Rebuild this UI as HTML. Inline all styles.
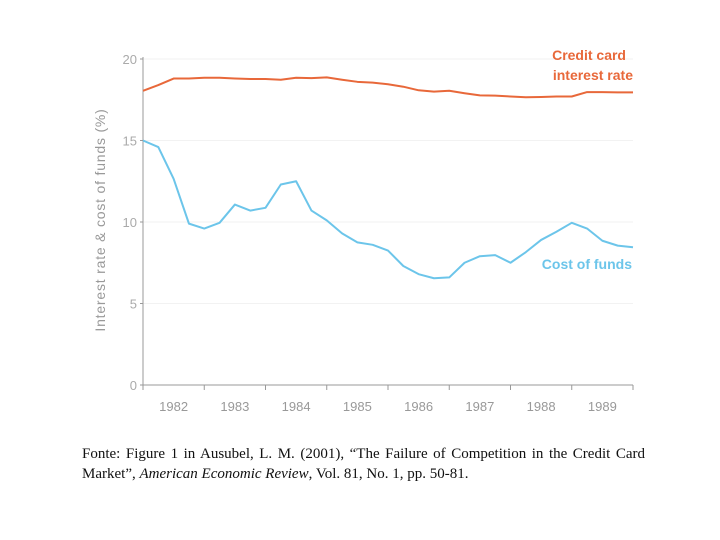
<!DOCTYPE html>
<html><head><meta charset="utf-8"><style>
body{margin:0;width:720px;height:540px;background:#fff;overflow:hidden;position:relative}
#cap{position:absolute;left:82px;top:444px;width:563px;font-family:"Liberation Serif",serif;font-size:15px;line-height:20px;color:#111;text-align:justify;text-align-last:left}
</style></head><body>
<svg id="chart" width="720" height="440" style="position:absolute;left:0;top:0" font-family="Liberation Sans, sans-serif"></svg>
<div id="cap">Fonte: Figure 1 in Ausubel, L. M. (2001), “The Failure of Competition in the Credit Card Market”, <i>American Economic Review</i>, Vol. 81, No. 1, pp. 50-81.</div>
<script>
const years=["1982","1983","1984","1985","1986","1987","1988","1989"];
const yTicks=[0,5,10,15,20];
const creditCard=[18.05,18.4,18.8,18.8,18.85,18.85,18.8,18.77,18.77,18.73,18.85,18.83,18.87,18.73,18.6,18.55,18.45,18.3,18.08,18.0,18.05,17.9,17.77,17.75,17.7,17.65,17.67,17.7,17.7,17.97,17.97,17.95,17.95];
const costOfFunds=[15.0,14.6,12.65,9.9,9.6,9.95,11.07,10.7,10.87,12.3,12.5,10.7,10.1,9.3,8.75,8.6,8.25,7.3,6.8,6.55,6.6,7.5,7.9,7.97,7.5,8.15,8.9,9.4,9.95,9.6,8.85,8.55,8.45];
const svg=document.getElementById('chart');
const NS='http://www.w3.org/2000/svg';
const X0=143,X1=633,Y0=385,Y1=59;
const x=q=>X0+(X1-X0)*q/(years.length*4);
const y=v=>Y0-(Y0-Y1)*v/20;
function mk(t,a){const e=document.createElementNS(NS,t);for(const k in a)e.setAttribute(k,a[k]);svg.appendChild(e);return e;}
yTicks.forEach(v=>{
 if(v>0){const g=mk('line',{x1:X0,x2:X1,y1:y(v),y2:y(v),stroke:'#f2f2f2','stroke-width':1});
 
 }
 const tk=mk('line',{x1:X0-3,x2:X0,y1:y(v),y2:y(v),stroke:'#999'});
 
 
 const t=mk('text',{x:X0-6,y:y(v)+5,'text-anchor':'end','font-size':13,fill:'#aaa'});
 t.textContent=v;
 
 
});
const ax=mk('line',{x1:X0,x2:X0,y1:Y1-2,y2:Y0,stroke:'#999'});


const bx=mk('line',{x1:X0,x2:X1,y1:Y0,y2:Y0,stroke:'#999'});


for(let i=0;i<=years.length;i++){
 const tk=mk('line',{x1:x(i*4),x2:x(i*4),y1:Y0,y2:Y0+5,stroke:'#999'});
 
 
}
years.forEach((yr,i)=>{
 const t=mk('text',{x:x(i*4+2),y:411,'text-anchor':'middle','font-size':13,fill:'#999'});
 t.textContent=yr;
 
 
});
const yt=mk('text',{x:0,y:0,'text-anchor':'middle','font-size':14,fill:'#999','letter-spacing':'0.8',transform:'translate(105,220) rotate(-90)'});
yt.textContent='Interest rate & cost of funds (%)';


function line(arr,col,name){
 const p=mk('polyline',{points:arr.map((v,i)=>x(i)+','+y(v)).join(' '),fill:'none',stroke:col,'stroke-width':2,'stroke-linejoin':'round'});
 
 
}
line(creditCard,'#e8683a','credit-card-line');
line(costOfFunds,'#6cc5ea','cost-of-funds-line');
function lab(txt,xx,yy,col,name){
 const t=mk('text',{x:xx,y:yy,'text-anchor':'end','font-size':14,fill:col,'font-weight':'bold'});
 t.textContent=txt;
 
 
}
lab('Credit card',626,60,'#e8683a','credit-card-label-line1');
lab('interest rate',633,80,'#e8683a','credit-card-label-line2');
lab('Cost of funds',632,269,'#6cc5ea','cost-of-funds-label');
</script>
</body></html>
